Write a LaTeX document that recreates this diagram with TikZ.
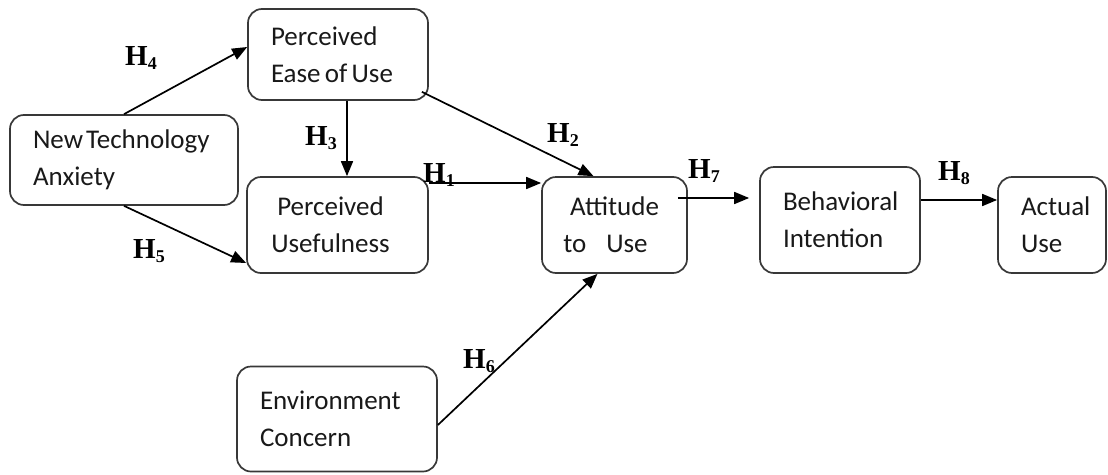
\documentclass[tikz,border=0pt]{standalone}
\usepackage{fontspec}
\usetikzlibrary{arrows.meta,calc}
\newfontfamily\boxfont{Carlito}[WordSpace=0.7]
\newfontfamily\hfont{Liberation Serif}
\newcommand{\hyp}[1]{{\hfont\bfseries\fontsize{29}{29}\selectfont H\raisebox{-4pt}{\fontsize{18}{18}\selectfont #1}}}
\begin{document}
\begin{tikzpicture}[x=1pt,y=-1pt,
  box/.style={draw=black!78, line width=1.7pt, rounded corners=14pt, inner ysep=0pt,
    font=\boxfont\fontsize{27}{37}\selectfont, text=black!90},
  lbox/.style={box, align=flush left, inner xsep=23pt},
  cbox/.style={box, align=flush center, inner xsep=5pt},
  conn/.style={line width=1.7pt, -{Triangle[length=15pt,width=12pt]}},
  hlab/.style={anchor=base west, inner sep=0pt}
]
\useasboundingbox (0,0) rectangle (1108,474);

\node[lbox, minimum width=180pt, minimum height=91pt, text width=134pt] (peou) at (338,54.5) {Perceived\\Ease of Use};
\node[lbox, minimum width=228pt, minimum height=90pt, text width=182pt] (nta) at (124,160) {New\hspace{3pt}Technology\\Anxiety};
\node[cbox, minimum width=181pt, minimum height=96pt, text width=171pt] (pu) at (337.5,225) {\hspace*{-14pt}Perceived\\\hspace*{-14pt}Usefulness};
\node[cbox, minimum width=145pt, minimum height=96pt, text width=135pt] (atu) at (614.5,225) {Attitude\\\hspace*{-18pt}to\hspace{20pt}Use};
\node[lbox, minimum width=160pt, minimum height=106pt, text width=114pt] (bi) at (840,220) {Behavioral\\Intention};
\node[lbox, minimum width=108pt, minimum height=96pt, text width=62pt] (au) at (1052,225) {Actual\\Use};
\node[lbox, minimum width=200pt, minimum height=105pt, text width=154pt] (ec) at (337,419) {Environment\\Concern};

\draw[conn] (nta.north) -- ([yshift=7.5pt]peou.west);
\draw[conn] (nta.south) -- ([yshift=-38pt]pu.west);
\draw[conn] ([xshift=9pt]peou.south) -- ([xshift=9pt]peou.south |- pu.north);
\draw[conn] ([shift={(-7pt,9pt)}]peou.south east) -- ([xshift=-21pt]atu.north);
\draw[conn] ([yshift=42pt]pu.east) -- ([yshift=42pt]pu.east -| atu.west);
\draw[conn] ([shift={(-10pt,27pt)}]atu.east) -- ([shift={(-10pt,27pt)}]atu.east -| bi.west);
\draw[conn] ([yshift=20pt]bi.east) -- ([yshift=20pt]bi.east -| au.west);
\draw[conn] ([yshift=-6pt]ec.east) -- ([xshift=-17pt]atu.south);

\node[hlab] (h4) at (125,65) {\hyp{4}};
\node[hlab] (h3) at (305,145) {\hyp{3}};
\node[hlab] (h5) at (133,258) {\hyp{5}};
\node[hlab] (h1) at (423,182) {\hyp{1}};
\node[hlab] (h2) at (547,142) {\hyp{2}};
\node[hlab] (h7) at (688,178) {\hyp{7}};
\node[hlab] (h8) at (938,180) {\hyp{8}};
\node[hlab] (h6) at (463,368) {\hyp{6}};
\end{tikzpicture}
\end{document}
